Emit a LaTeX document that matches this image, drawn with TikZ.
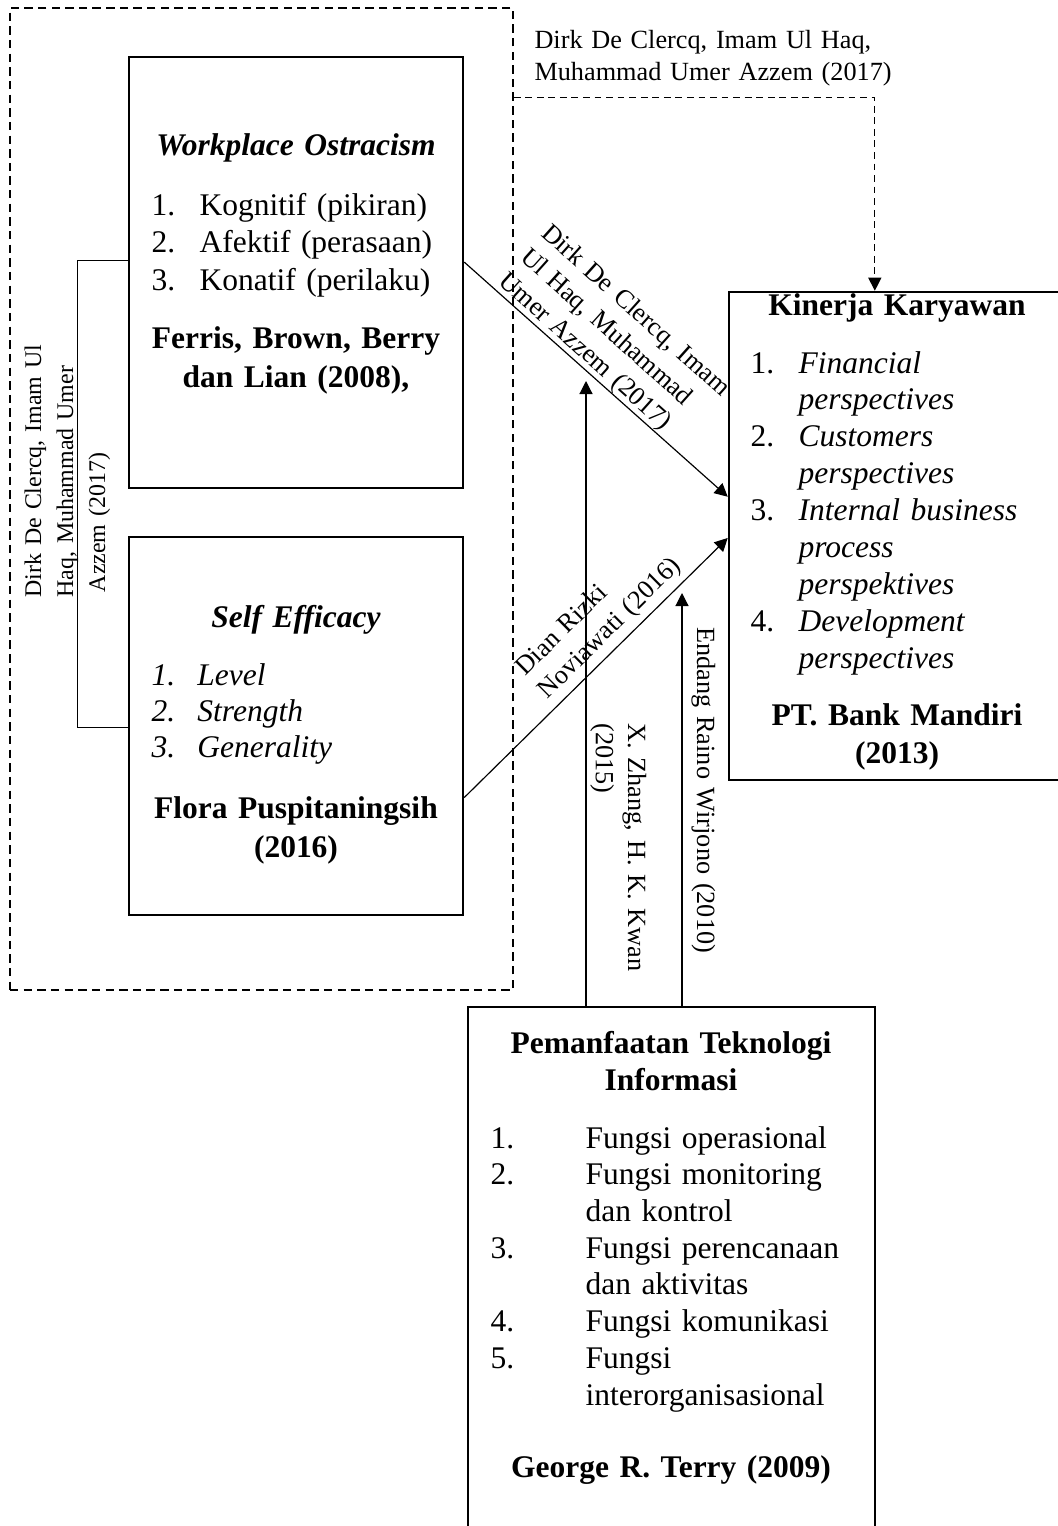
\documentclass[tikz,border=0pt]{standalone}
\usepackage{fontspec}
\setmainfont{Liberation Serif}
\usetikzlibrary{arrows.meta,calc,fit}
\newcommand\itm[2][18.3pt]{\makebox[#1][l]{#2}}
\begin{document}
\begin{tikzpicture}[x=0.381pt,y=-0.381pt,
  box/.style={draw, line width=0.95pt, inner sep=0pt},
  grpbox/.style={draw, line width=0.55pt, dash pattern=on 3.2pt off 2pt, inner sep=0pt},
  lst/.style={inner sep=0pt, align=left, text width=#1},
  ttl/.style={inner sep=0pt, align=center, text width=#1, anchor=base},
  lbl/.style={inner sep=0pt, font=\fontsize{10}{12.2}\selectfont, align=left, text width=150pt, anchor=base west},
  arr/.style={line width=0.45pt, -{Triangle[length=5pt,width=5pt]}},
  darr/.style={arr, dash pattern=on 2.6pt off 1.8pt},
  brk/.style={line width=0.45pt}]
\useasboundingbox (0,0) rectangle (1057,1526);

% boxes
\node[grpbox, fit={(10,8) (513,990)}] (grp) {};
\node[box, fit={(129,57) (463,488)}] (wo) {};
\node[box, fit={(129,537) (463,915)}] (se) {};
\node[box, fit={(729,292) (1065,780)}] (kin) {};
\node[box, fit={(468,1007) (875,1560)}] (it) {};

% Workplace Ostracism
\node[ttl=125pt, font=\fontsize{12}{14}\selectfont\bfseries\itshape] (wo-t) at (296,155) {Workplace Ostracism};
\node[lst=140pt, anchor=base west, font=\fontsize{12}{14.3}\selectfont] (wo-l) at (151,215)
  {\itm{1.}Kognitif (pikiran)\\\itm{2.}Afektif (perasaan)\\\itm{3.}Konatif (perilaku)};
\node[ttl=125pt, font=\fontsize{12}{15.2}\selectfont\bfseries] (wo-a) at (296,348)
  {Ferris, Brown, Berry\\dan Lian (2008),};

% Self Efficacy
\node[ttl=125pt, font=\fontsize{12}{14}\selectfont\bfseries\itshape] (se-t) at (296,627) {Self Efficacy};
\node[lst=140pt, anchor=base west, font=\fontsize{12}{13.9}\selectfont\itshape] (se-l) at (151,685)
  {\itm[17.5pt]{1.}Level\\\itm[17.5pt]{2.}Strength\\\itm[17.5pt]{3.}Generality};
\node[ttl=125pt, font=\fontsize{12}{15.2}\selectfont\bfseries] (se-a) at (296,818)
  {Flora Puspitaningsih\\(2016)};

% Kinerja Karyawan
\node[ttl=125pt, font=\fontsize{12}{14}\selectfont\bfseries] (kin-t) at (897,315) {Kinerja Karyawan};
\node[lst=120pt, anchor=base west, font=\fontsize{12}{14.05}\selectfont] (kin-l) at (750,373)
  {\itm{1.}\textit{Financial}\\\itm{}\textit{perspectives}\\
   \itm{2.}\textit{Customers}\\\itm{}\textit{perspectives}\\
   \itm{3.}\textit{Internal business}\\\itm{}\textit{process}\\\itm{}\textit{perspektives}\\
   \itm{4.}\textit{Development}\\\itm{}\textit{perspectives}};
\node[ttl=125pt, font=\fontsize{12}{14.5}\selectfont\bfseries] (kin-a) at (897,725)
  {PT. Bank Mandiri\\(2013)};

% Pemanfaatan Teknologi Informasi
\node[ttl=150pt, font=\fontsize{12}{14.1}\selectfont\bfseries] (it-t) at (671,1053)
  {Pemanfaatan Teknologi\\Informasi};
\node[lst=150pt, anchor=base west, font=\fontsize{12}{14}\selectfont] (it-l) at (490,1148)
  {\itm[36.2pt]{1.}Fungsi operasional\\\itm[36.2pt]{2.}Fungsi monitoring\\\itm[36.2pt]{}dan kontrol\\
   \itm[36.2pt]{3.}Fungsi perencanaan\\\itm[36.2pt]{}dan aktivitas\\\itm[36.2pt]{4.}Fungsi komunikasi\\
   \itm[36.2pt]{5.}Fungsi\\\itm[36.2pt]{}interorganisasional};
\node[ttl=150pt, font=\fontsize{12}{14}\selectfont\bfseries] (it-a) at (671,1477) {George R. Terry (2009)};

% labels
\node[lbl] (l-top) at (534,48) {Dirk De Clercq, Imam Ul Haq,\\Muhammad Umer Azzem (2017)};
\node[lbl, font=\fontsize{9.1}{12.2}\selectfont, rotate=90] (l-left) at (41,598)
  {Dirk De Clercq, Imam Ul\\Haq, Muhammad Umer\\\hspace*{2pt}Azzem (2017)};
\node[lbl, rotate=-41.8] (l-d1) at (540,235) {Dirk De Clercq, Imam\\Ul Haq, Muhammad\\Umer Azzem (2017)};
\node[lbl, rotate=44.7] (l-d2) at (525,677) {Dian Rizki\\Noviawati (2016)};
\node[lbl, rotate=-90] (l-xz) at (628,723) {X. Zhang, H. K. Kwan\\(2015)};
\node[lbl, rotate=-90] (l-er) at (697,627) {Endang Raino Wirjono (2010)};

% connectors
\draw[brk] ($(wo.north west)!0.473!(wo.south west)$) -- ++(-50,0) |- ($(se.north west)!0.503!(se.south west)$);
\draw[arr] ($(wo.north east)!0.476!(wo.south east)$) -- ($(kin.north west)!0.42!(kin.south west)$);
\draw[arr] ($(se.north east)!0.688!(se.south east)$) -- ($(kin.north west)!0.504!(kin.south west)$);
\coordinate (xz-end) at (586,381);
\coordinate (er-end) at (682,593);
\draw[arr] (xz-end |- it.north) -- (xz-end);
\draw[arr] (er-end |- it.north) -- (er-end);
\draw[darr] ($(grp.north east)!0.0916!(grp.south east)$) -| ($(kin.north west)!0.4345!(kin.north east)$);
\end{tikzpicture}
\end{document}
